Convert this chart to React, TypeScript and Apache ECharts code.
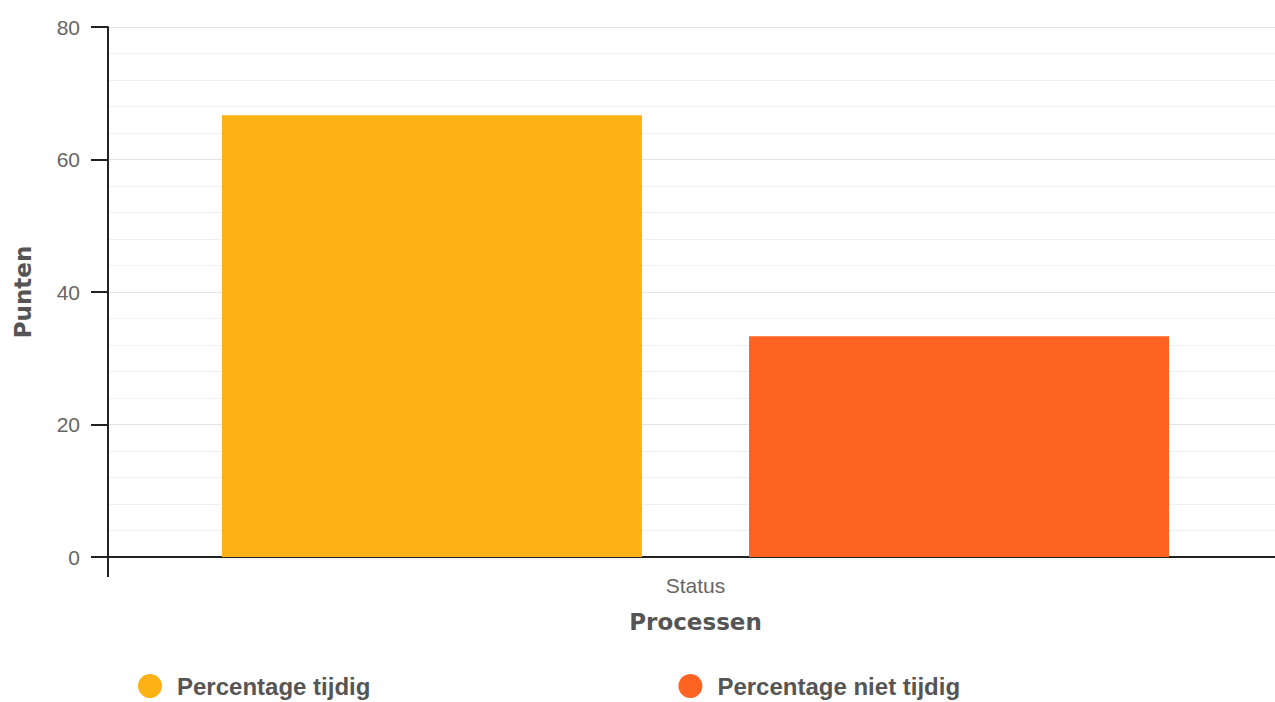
import React, { useEffect, useRef } from "react";
import * as echarts from "echarts";

const categories = ["Status"];
const seriesNames = ["Percentage tijdig", "Percentage niet tijdig"];
const tijdig = [66.67];
const nietTijdig = [33.33];
const colors = ["#FCB215", "#FE6322"];

export default function App() {
  const ref = useRef<HTMLDivElement>(null);
  useEffect(() => {
    const chart = echarts.init(ref.current!, null, { renderer: "svg" });
    chart.setOption({
      animation: false,
      grid: { left: 108, right: 0, top: 27, bottom: 145, containLabel: false },
      legend: {
        left: 138,
        top: 674,
        padding: 0,
        icon: "circle",
        itemWidth: 24,
        itemHeight: 24,
        itemGap: 308,
        textStyle: {
          fontFamily: "Liberation Sans",
          fontWeight: "bold",
          fontSize: 24,
          lineHeight: 24,
          color: "#555",
          padding: [0, 0, 0, 10],
        },
        data: seriesNames,
      },
      xAxis: {
        type: "category",
        data: categories,
        name: "Processen",
        nameLocation: "middle",
        nameGap: 53,
        nameTextStyle: {
          fontFamily: "DejaVu Sans",
          fontWeight: "bold",
          fontSize: 23,
          color: "#555",
        },
        axisLine: { lineStyle: { color: "#222", width: 2 } },
        axisTick: { show: true, length: 20, lineStyle: { color: "#222", width: 2 } },
        axisLabel: { fontFamily: "Liberation Sans", fontSize: 21, color: "#666", margin: 18 },
      },
      yAxis: {
        type: "value",
        min: 0,
        max: 80,
        interval: 20,
        name: "Punten",
        nameLocation: "middle",
        nameGap: 74,
        nameRotate: 90,
        nameTextStyle: {
          fontFamily: "DejaVu Sans",
          fontWeight: "bold",
          fontSize: 23,
          color: "#555",
        },
        axisLine: { show: true, lineStyle: { color: "#222", width: 2 } },
        axisTick: { show: true, length: 17, lineStyle: { color: "#222", width: 2 } },
        axisLabel: { fontFamily: "Liberation Sans", fontSize: 21, color: "#666", margin: 28 },
        splitLine: { show: true, lineStyle: { color: "#e4e4e4", width: 1 } },
        minorTick: { show: false, splitNumber: 5 },
        minorSplitLine: { show: true, lineStyle: { color: "#f0f0f0", width: 1 } },
      },
      series: [
        {
          name: seriesNames[0],
          type: "bar",
          data: tijdig,
          barWidth: 420,
          barGap: "25.5%",
          itemStyle: { color: colors[0] },
        },
        {
          name: seriesNames[1],
          type: "bar",
          data: nietTijdig,
          barWidth: 420,
          itemStyle: { color: colors[1] },
        },
      ],
    });
    return () => chart.dispose();
  }, []);
  return (
    <div style={{ width: 1275, height: 702, position: "absolute", left: 0, top: 0, overflow: "hidden" }}>
      <div ref={ref} style={{ width: 1283, height: 702 }} />
    </div>
  );
}
